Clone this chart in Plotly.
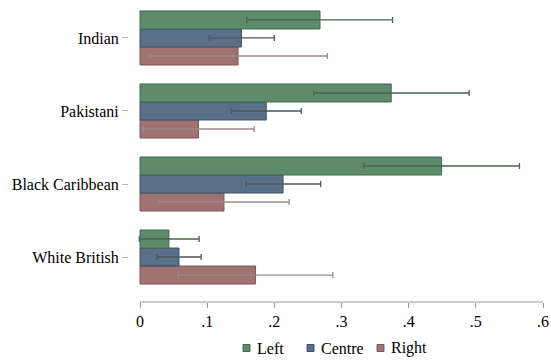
import plotly.graph_objects as go

# Groups, top to bottom
groups = ["Indian", "Pakistani", "Black Caribbean", "White British"]

# Point estimates and 95% confidence bounds per position
left_est = [0.268, 0.374, 0.449, 0.043]
left_lo = [0.159, 0.259, 0.333, -0.001]
left_hi = [0.376, 0.490, 0.565, 0.088]

centre_est = [0.151, 0.188, 0.213, 0.058]
centre_lo = [0.103, 0.136, 0.158, 0.025]
centre_hi = [0.200, 0.240, 0.269, 0.091]

right_est = [0.146, 0.087, 0.125, 0.172]
right_lo = [0.015, 0.004, 0.028, 0.057]
right_hi = [0.279, 0.170, 0.222, 0.287]

x_ticks = [0, 0.1, 0.2, 0.3, 0.4, 0.5, 0.6]
x_tick_text = ["0", ".1", ".2", ".3", ".4", ".5", ".6"]

series = [
    # name, est, lo, hi, fill, outline, error colour
    ("Right", right_est, right_lo, right_hi, "#a07272", "#7d5656", "#a08a8a"),
    ("Centre", centre_est, centre_lo, centre_hi, "#5a6f8a", "#3f4f66", "#4e5560"),
    ("Left", left_est, left_lo, left_hi, "#5f8b6d", "#3f6a4d", "#4a6452"),
]

FONT = "Liberation Serif"
FS = 16
W, H = 551, 363
ML, MR, MT, MB = 129, 8, 0, 61
PW, PH = W - ML - MR, H - MT - MB

fig = go.Figure()

for name, est, lo, hi, fill, edge, err in series:
    fig.add_trace(go.Bar(
        y=groups, x=est, orientation="h", name=name, showlegend=False,
        marker=dict(color=fill, line=dict(color=edge, width=1)),
        error_x=dict(
            type="data", symmetric=False,
            array=[h - e for h, e in zip(hi, est)],
            arrayminus=[e - l for e, l in zip(est, lo)],
            color=err, thickness=1.3, width=3,
        ),
    ))

# x-axis baseline drawn only over the data range
fig.add_shape(type="line", xref="x", yref="paper", x0=0, x1=0.6, y0=0, y1=0,
              line=dict(color="#9a9a9a", width=1))


def px_x(p):
    return (p - ML) / PW


def px_y(p):
    return (MT + PH - p) / PH


# Key below the axis: small square swatch followed by the series name
key_y = 348
key_swatch_x = [246.5, 310.5, 380.5]
key_text_x = [255, 319, 389]
for i, (name, est, lo, hi, fill, edge, err) in enumerate(reversed(series)):
    cx = key_swatch_x[i]
    fig.add_shape(type="rect", xref="paper", yref="paper",
                  x0=px_x(cx - 3.5), x1=px_x(cx + 3.5),
                  y0=px_y(key_y + 3.5), y1=px_y(key_y - 3.5),
                  fillcolor=fill, line=dict(color=edge, width=1))
    fig.add_annotation(text=name, xref="paper", yref="paper",
                       x=px_x(key_text_x[i]), y=px_y(key_y),
                       xanchor="left", yanchor="middle", showarrow=False,
                       font=dict(family=FONT, size=FS, color="black"))

fig.update_layout(
    width=W, height=H,
    margin=dict(l=ML, r=MR, t=MT, b=MB),
    paper_bgcolor="white", plot_bgcolor="white",
    barmode="group", bargap=0.26, bargroupgap=0,
    showlegend=False,
    font=dict(family=FONT, size=FS, color="black"),
    xaxis=dict(
        range=[-0.0164, 0.6], tickvals=x_ticks, ticktext=x_tick_text,
        showgrid=False, zeroline=False, showline=False,
        ticks="outside", ticklen=5, tickcolor="#9a9a9a", tickwidth=1,
        tickfont=dict(family=FONT, size=FS, color="black"),
    ),
    yaxis=dict(
        categoryorder="array", categoryarray=list(reversed(groups)),
        range=[-0.616, 3.52],
        showgrid=False, zeroline=False, showline=False,
        ticks="outside", ticklen=6, tickcolor="#b5b5b5", tickwidth=1,
        ticklabelstandoff=0,
        tickfont=dict(family=FONT, size=FS, color="black"),
    ),
)

fig.write_html("out.html")
